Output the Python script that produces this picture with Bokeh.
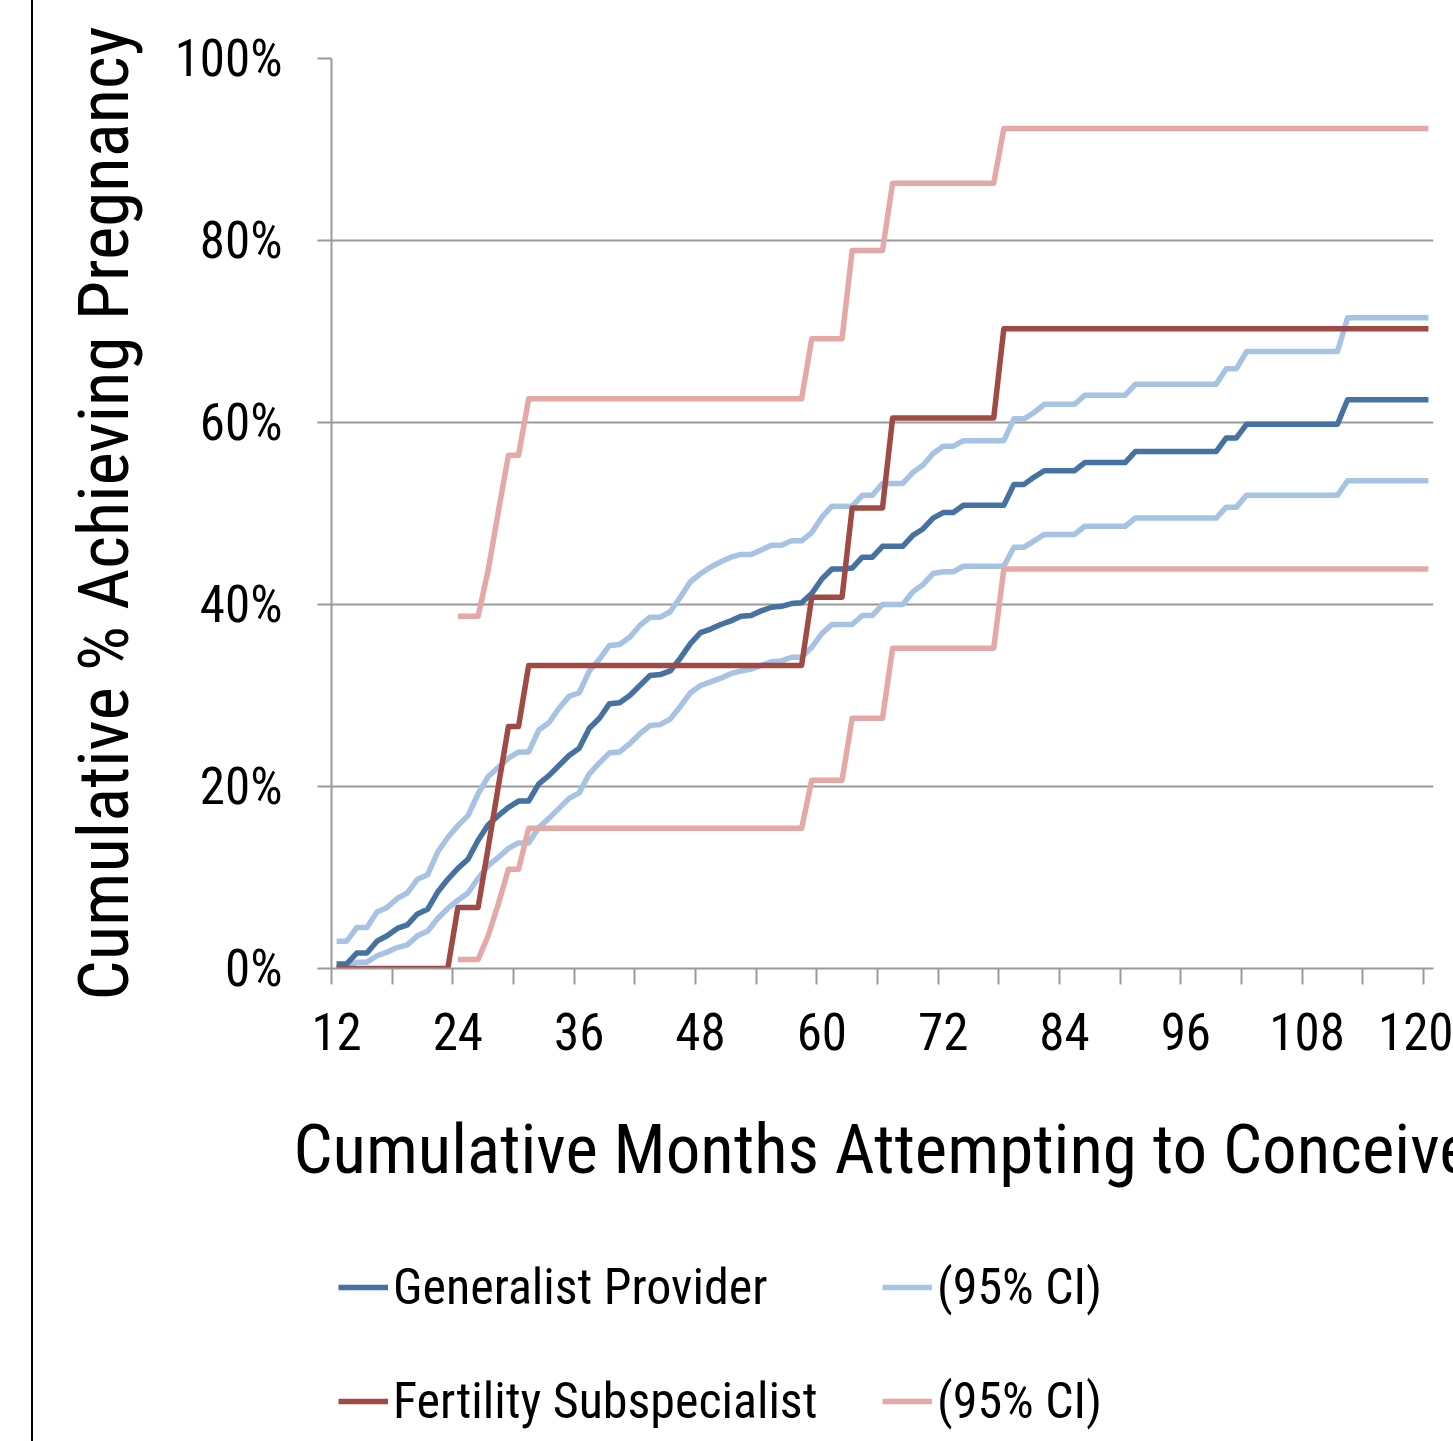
from bokeh.plotting import figure
from bokeh.layouts import column
from bokeh.models import (FixedTicker, Range1d, Legend, LegendItem, PrintfTickFormatter)
from bokeh.embed import file_html
from bokeh.resources import INLINE

# ---------------- data ----------------
months = list(range(12, 121))          # 12 .. 120
months_fs_ci = list(range(24, 121))    # 24 .. 120

generalist = [
    0.5, 0.5, 1.7, 1.7, 3.0, 3.6, 4.4, 4.8, 6.0, 6.5,            # 12-21
    8.4, 9.8, 11.0, 12.0, 14.1, 15.8, 16.8, 17.7, 18.4, 18.4,    # 22-31
    20.3, 21.2, 22.3, 23.4, 24.2, 26.4, 27.5, 29.1, 29.2, 30.0,  # 32-41
    31.1, 32.2, 32.3, 32.7, 34.1, 35.7, 36.9, 37.3, 37.8, 38.2,  # 42-51
    38.7, 38.8, 39.3, 39.7, 39.8, 40.1, 40.2, 41.2, 42.8, 43.9,  # 52-61
    43.9, 44.0, 45.2, 45.2, 46.4, 46.4, 46.4, 47.6, 48.3, 49.5,  # 62-71
    50.1, 50.1, 50.9, 50.9, 50.9, 50.9, 50.9, 53.2, 53.2, 54.0,  # 72-81
    54.7, 54.7, 54.7, 54.7, 55.6, 55.6, 55.6, 55.6, 55.6, 56.8,  # 82-91
    56.8, 56.8, 56.8, 56.8, 56.8, 56.8, 56.8, 56.8, 58.3, 58.3,  # 92-101
    59.8, 59.8, 59.8, 59.8, 59.8, 59.8, 59.8, 59.8, 59.8, 59.8,  # 102-111
    62.5, 62.5, 62.5, 62.5, 62.5, 62.5, 62.5, 62.5, 62.5,        # 112-120
]
generalist_hi = [
    3.0, 3.0, 4.5, 4.5, 6.2, 6.7, 7.7, 8.3, 9.8, 10.3,
    12.8, 14.4, 15.7, 16.8, 19.2, 21.1, 22.1, 23.1, 23.8, 23.8,
    26.2, 27.0, 28.6, 29.9, 30.3, 32.7, 34.0, 35.5, 35.6, 36.4,
    37.7, 38.6, 38.6, 39.2, 40.8, 42.5, 43.4, 44.1, 44.7, 45.2,
    45.5, 45.5, 46.0, 46.5, 46.5, 47.0, 47.0, 47.9, 49.6, 50.8,
    50.8, 50.8, 52.0, 52.0, 53.3, 53.3, 53.3, 54.5, 55.3, 56.6,
    57.4, 57.4, 58.0, 58.0, 58.0, 58.0, 58.0, 60.4, 60.4, 61.1,
    62.0, 62.0, 62.0, 62.0, 63.0, 63.0, 63.0, 63.0, 63.0, 64.2,
    64.2, 64.2, 64.2, 64.2, 64.2, 64.2, 64.2, 64.2, 65.9, 65.9,
    67.8, 67.8, 67.8, 67.8, 67.8, 67.8, 67.8, 67.8, 67.8, 67.8,
    71.5, 71.5, 71.5, 71.5, 71.5, 71.5, 71.5, 71.5, 71.5,
]
generalist_lo = [
    0.1, 0.1, 0.7, 0.7, 1.4, 1.8, 2.3, 2.6, 3.6, 4.1,
    5.5, 6.6, 7.5, 8.3, 9.9, 11.3, 12.2, 13.2, 13.8, 13.8,
    15.5, 16.5, 17.6, 18.7, 19.3, 21.4, 22.6, 23.7, 23.8, 24.7,
    25.8, 26.7, 26.8, 27.4, 28.8, 30.3, 31.1, 31.5, 31.9, 32.4,
    32.7, 32.9, 33.3, 33.7, 33.8, 34.2, 34.2, 35.3, 36.8, 37.8,
    37.8, 37.8, 38.8, 38.8, 40.0, 40.0, 40.0, 41.4, 42.2, 43.4,
    43.6, 43.6, 44.2, 44.2, 44.2, 44.2, 44.2, 46.3, 46.3, 47.0,
    47.7, 47.7, 47.7, 47.7, 48.6, 48.6, 48.6, 48.6, 48.6, 49.5,
    49.5, 49.5, 49.5, 49.5, 49.5, 49.5, 49.5, 49.5, 50.7, 50.7,
    52.0, 52.0, 52.0, 52.0, 52.0, 52.0, 52.0, 52.0, 52.0, 52.0,
    53.6, 53.6, 53.6, 53.6, 53.6, 53.6, 53.6, 53.6, 53.6,
]
fertility = [
    0.0, 0.0, 0.0, 0.0, 0.0, 0.0, 0.0, 0.0, 0.0, 0.0,            # 12-21
    0.0, 0.0, 6.7, 6.7, 6.7, 13.3, 20.0, 26.6, 26.6, 33.3,       # 22-31
    33.3, 33.3, 33.3, 33.3, 33.3, 33.3, 33.3, 33.3, 33.3, 33.3,  # 32-41
    33.3, 33.3, 33.3, 33.3, 33.3, 33.3, 33.3, 33.3, 33.3, 33.3,  # 42-51
    33.3, 33.3, 33.3, 33.3, 33.3, 33.3, 33.3, 40.8, 40.8, 40.8,  # 52-61
    40.8, 50.6, 50.6, 50.6, 50.6, 60.5, 60.5, 60.5, 60.5, 60.5,  # 62-71
    60.5, 60.5, 60.5, 60.5, 60.5, 60.5, 70.3, 70.3, 70.3, 70.3,  # 72-81
    70.3, 70.3, 70.3, 70.3, 70.3, 70.3, 70.3, 70.3, 70.3, 70.3,  # 82-91
    70.3, 70.3, 70.3, 70.3, 70.3, 70.3, 70.3, 70.3, 70.3, 70.3,  # 92-101
    70.3, 70.3, 70.3, 70.3, 70.3, 70.3, 70.3, 70.3, 70.3, 70.3,  # 102-111
    70.3, 70.3, 70.3, 70.3, 70.3, 70.3, 70.3, 70.3, 70.3,        # 112-120
]
fertility_hi = [
    38.7, 38.7, 38.7, 43.8, 50.2, 56.4, 56.4, 62.6,              # 24-31
    62.6, 62.6, 62.6, 62.6, 62.6, 62.6, 62.6, 62.6, 62.6, 62.6,  # 32-41
    62.6, 62.6, 62.6, 62.6, 62.6, 62.6, 62.6, 62.6, 62.6, 62.6,  # 42-51
    62.6, 62.6, 62.6, 62.6, 62.6, 62.6, 62.6, 69.2, 69.2, 69.2,  # 52-61
    69.2, 78.9, 78.9, 78.9, 78.9, 86.3, 86.3, 86.3, 86.3, 86.3,  # 62-71
    86.3, 86.3, 86.3, 86.3, 86.3, 86.3, 92.3, 92.3, 92.3, 92.3,  # 72-81
    92.3, 92.3, 92.3, 92.3, 92.3, 92.3, 92.3, 92.3, 92.3, 92.3,  # 82-91
    92.3, 92.3, 92.3, 92.3, 92.3, 92.3, 92.3, 92.3, 92.3, 92.3,  # 92-101
    92.3, 92.3, 92.3, 92.3, 92.3, 92.3, 92.3, 92.3, 92.3, 92.3,  # 102-111
    92.3, 92.3, 92.3, 92.3, 92.3, 92.3, 92.3, 92.3, 92.3,        # 112-120
]
fertility_lo = [
    1.0, 1.0, 1.0, 3.6, 7.1, 10.9, 10.9, 15.4,                   # 24-31
    15.4, 15.4, 15.4, 15.4, 15.4, 15.4, 15.4, 15.4, 15.4, 15.4,  # 32-41
    15.4, 15.4, 15.4, 15.4, 15.4, 15.4, 15.4, 15.4, 15.4, 15.4,  # 42-51
    15.4, 15.4, 15.4, 15.4, 15.4, 15.4, 15.4, 20.7, 20.7, 20.7,  # 52-61
    20.7, 27.5, 27.5, 27.5, 27.5, 35.2, 35.2, 35.2, 35.2, 35.2,  # 62-71
    35.2, 35.2, 35.2, 35.2, 35.2, 35.2, 43.9, 43.9, 43.9, 43.9,  # 72-81
    43.9, 43.9, 43.9, 43.9, 43.9, 43.9, 43.9, 43.9, 43.9, 43.9,  # 82-91
    43.9, 43.9, 43.9, 43.9, 43.9, 43.9, 43.9, 43.9, 43.9, 43.9,  # 92-101
    43.9, 43.9, 43.9, 43.9, 43.9, 43.9, 43.9, 43.9, 43.9, 43.9,  # 102-111
    43.9, 43.9, 43.9, 43.9, 43.9, 43.9, 43.9, 43.9, 43.9,        # 112-120
]

x_tick_labels = [12, 24, 36, 48, 60, 72, 84, 96, 108, 120]
y_ticks = [0, 20, 40, 60, 80, 100]

series_labels = ["Generalist Provider", "(95% CI)", "Fertility Subspecialist", "(95% CI)"]
x_title = "Cumulative Months Attempting to Conceive"
y_title = "Cumulative % Achieving Pregnancy"

# ---------------- style ----------------
FONT = "Liberation Sans Narrow, Arial Narrow, Roboto Condensed, Liberation Sans"
GRID = "#9a9a9a"
C_GP = "#4672A2"
C_GP_CI = "#A7C3E3"
C_FS = "#A04A45"
C_FS_CI = "#E4A9A6"
LW = 5.5
RULE = {"background-image":
        "linear-gradient(to right, #ffffff 31px, #000000 31px, #000000 33px, #ffffff 33px)"}

W = 1453
H_CHART = 1250
H_LEGEND = 1441 - H_CHART

p = figure(width=W, height=H_CHART, output_backend="svg", toolbar_location=None,
           x_range=Range1d(11.5, 120.5), y_range=Range1d(0, 100),
           min_border_left=331, min_border_right=20, min_border_top=58,
           min_border_bottom=H_CHART - 968)
p.background_fill_color = "white"
p.border_fill_color = None
p.outline_line_color = None
p.styles = RULE

# x axis: labels at the category centres, tick marks at category boundaries
xa = p.xaxis[0]
minor_bounds = [t - 0.5 for t in range(12, 121, 6)]
xa.ticker = FixedTicker(ticks=x_tick_labels, minor_ticks=minor_bounds)
xa.major_tick_out = 0
xa.major_tick_in = 0
xa.major_tick_line_color = None
xa.minor_tick_out = 16
xa.minor_tick_in = 0
xa.minor_tick_line_color = GRID
xa.minor_tick_line_width = 2
xa.axis_line_color = GRID
xa.axis_line_width = 2
xa.major_label_text_font = FONT
xa.major_label_text_font_size = "51px"
xa.major_label_text_color = "black"
xa.major_label_standoff = 28
xa.axis_label = x_title
xa.axis_label_text_font = FONT
xa.axis_label_text_font_size = "69px"
xa.axis_label_text_font_style = "normal"
xa.axis_label_text_color = "black"
xa.axis_label_standoff = 56

ya = p.yaxis[0]
ya.ticker = FixedTicker(ticks=y_ticks)
ya.formatter = PrintfTickFormatter(format="%d%%")
ya.major_tick_out = 14
ya.major_tick_in = 0
ya.major_tick_line_color = GRID
ya.major_tick_line_width = 2
ya.minor_tick_line_color = None
ya.axis_line_color = GRID
ya.axis_line_width = 2
ya.major_label_text_font = FONT
ya.major_label_text_font_size = "51px"
ya.major_label_text_color = "black"
ya.major_label_standoff = 35
ya.axis_label = y_title
ya.axis_label_text_font = FONT
ya.axis_label_text_font_size = "71px"
ya.axis_label_text_font_style = "normal"
ya.axis_label_text_color = "black"
ya.axis_label_standoff = 27

p.xgrid.grid_line_color = None
p.ygrid.grid_line_color = GRID
p.ygrid.grid_line_width = 2

line_kw = dict(line_width=LW, line_join="round")
r_gp_hi = p.line(months, generalist_hi, color=C_GP_CI, **line_kw)
r_gp_lo = p.line(months, generalist_lo, color=C_GP_CI, **line_kw)
r_gp = p.line(months, generalist, color=C_GP, **line_kw)
r_fs_hi = p.line(months_fs_ci, fertility_hi, color=C_FS_CI, **line_kw)
r_fs_lo = p.line(months_fs_ci, fertility_lo, color=C_FS_CI, **line_kw)
r_fs = p.line(months, fertility, color=C_FS, **line_kw)

# ---------------- legend strip (second svg figure below the chart) ----------------
# its ranges keep the series out of view; only the legend is seen here
q = figure(width=W, height=H_LEGEND, output_backend="svg", toolbar_location=None,
           x_range=Range1d(-2, -1), y_range=Range1d(-2, -1),
           x_axis_type=None, y_axis_type=None, min_border=0)
q.background_fill_color = None
q.border_fill_color = None
q.outline_line_color = None
q.styles = RULE

k_gp = q.line(months, generalist, color=C_GP, **line_kw)
k_gp_ci = q.line(months, generalist_hi, color=C_GP_CI, **line_kw)
k_fs = q.line(months, fertility, color=C_FS, **line_kw)
k_fs_ci = q.line(months_fs_ci, fertility_hi, color=C_FS_CI, **line_kw)

legend = Legend(items=[
    LegendItem(label=series_labels[0], renderers=[k_gp]),
    LegendItem(label=series_labels[1], renderers=[k_gp_ci]),
    LegendItem(label=series_labels[2], renderers=[k_fs]),
    LegendItem(label=series_labels[3], renderers=[k_fs_ci]),
], location=(7, 5), orientation="horizontal", ncols=2,
    glyph_width=50, glyph_height=70, label_standoff=5, label_width=445,
    spacing=44, padding=0, margin=0, border_line_color=None,
    background_fill_alpha=0, label_text_font=FONT, label_text_font_size="50px",
    label_text_color="black")
q.add_layout(legend)

layout = column(p, q, spacing=0)
open("out.html", "w").write(file_html(layout, INLINE))
